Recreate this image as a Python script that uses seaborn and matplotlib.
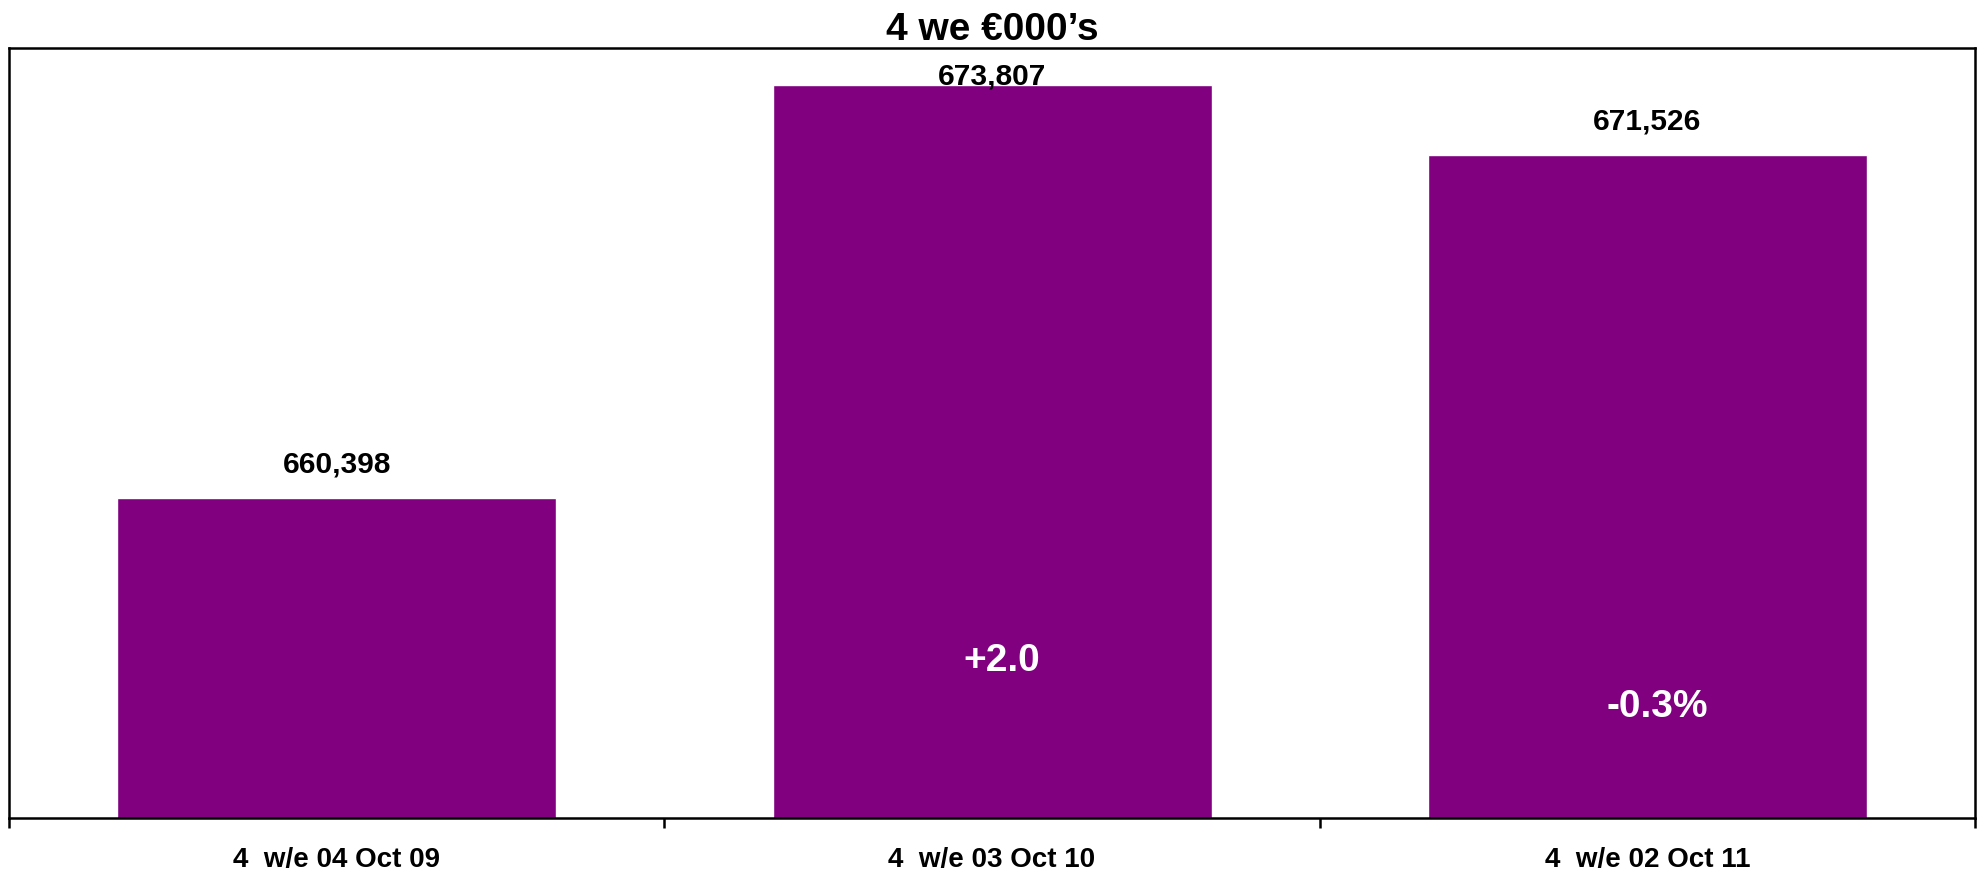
import matplotlib
matplotlib.use("Agg")
import matplotlib.pyplot as plt
import seaborn as sns
import pandas as pd
from matplotlib.ticker import FixedLocator

# Four-week sales, € thousands
periods = ["4  w/e 04 Oct 09", "4  w/e 03 Oct 10", "4  w/e 02 Oct 11"]
sales = [660398, 673807, 671526]
changes = ["", "+2.0", "-0.3%"]
change_y = [None, 655100, 653600]

sns.set_theme(style="white")
plt.rcParams["font.family"] = ["Liberation Sans", "DejaVu Sans"]
plt.rcParams["text.color"] = "black"

df = pd.DataFrame({"period": periods, "sales": sales})

fig = plt.figure(figsize=(19.77, 8.73), dpi=100)
ax = fig.add_axes([0.0046, 0.063, 0.9944, 0.882])

sns.barplot(data=df, x="period", y="sales", color="#800080", saturation=1,
            width=0.67, ax=ax)

ax.set_ylim(650000, 675000)
ax.set_xlim(-0.5, len(periods) - 0.5)
ax.set_xlabel("")
ax.set_ylabel("")
ax.set_yticks([])

# category labels without marks; boundary ticks below the axis
ax.tick_params(axis="x", which="major", length=0, pad=21, labelsize=20)
for lbl in ax.get_xticklabels():
    lbl.set_fontweight("bold")
    lbl.set_color("black")
ax.xaxis.set_minor_locator(FixedLocator([i - 0.5 for i in range(len(periods) + 1)]))
ax.tick_params(axis="x", which="minor", bottom=True, length=7, width=1.8,
               color="black", direction="out")

for s in ax.spines.values():
    s.set_visible(True)
    s.set_color("black")
    s.set_linewidth(1.8)

ax.set_title("4 we €000’s", fontsize=28, fontweight="bold", pad=6, color="black")

# value labels above the bars (the tallest one is kept inside the frame)
offsets = [24, 6, 24]
for i, (v, off) in enumerate(zip(sales, offsets)):
    ax.annotate(f"{v:,}", xy=(i, v), xytext=(0, off), textcoords="offset points",
                ha="center", va="center", fontsize=21.5, fontweight="bold",
                color="black", annotation_clip=False)

# year-on-year change inside the bars
for i, (txt, y) in enumerate(zip(changes, change_y)):
    if txt:
        ax.text(i + 0.015, y, txt, ha="center", va="center", fontsize=28,
                fontweight="bold", color="white")

fig.savefig("out.png", dpi=100)
